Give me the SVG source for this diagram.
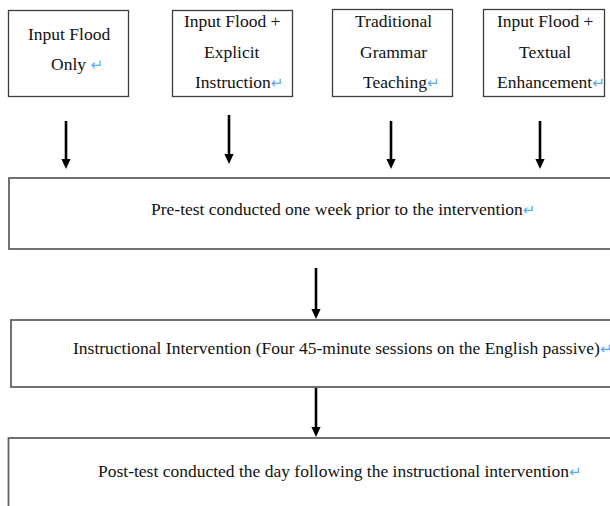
<svg xmlns="http://www.w3.org/2000/svg" width="610" height="506" viewBox="0 0 610 506">
<style>
  .bg{fill:#ffffff}
  .small{fill:#ffffff;stroke:#3c3c3c;stroke-width:1.3}
  .big{fill:#ffffff;stroke:#626262;stroke-width:1.8}
  .t{font-family:'Liberation Serif','DejaVu Serif',serif;font-size:17.5px;fill:#111111}
  .ret{font-family:'DejaVu Sans',sans-serif;font-size:15px;fill:#5aaaf0}
  .arrow{stroke:#000000;stroke-width:2.6;fill:none;marker-end:url(#head)}
</style>
<defs>
  <marker id="head" viewBox="0 -5 10 10" refX="0" refY="0" markerWidth="10" markerHeight="10" markerUnits="userSpaceOnUse" orient="auto">
    <path d="M0,-4.6 L10,0 L0,4.6 Z" fill="#000000"/>
  </marker>
</defs>
<rect class="bg" x="0" y="0" width="610" height="506"/>

<g id="node-input-flood-only">
  <rect class="small" x="8.5" y="10.5" width="120" height="86"/>
  <text class="t" x="28" y="40">Input Flood</text>
  <text class="t" x="51" y="70">Only <tspan class="ret">↵</tspan></text>
</g>

<g id="node-input-flood-explicit">
  <rect class="small" x="172.5" y="10.5" width="120" height="86"/>
  <text class="t" x="184" y="27">Input Flood +</text>
  <text class="t" x="204" y="58">Explicit</text>
  <text class="t" x="195" y="88">Instruction<tspan class="ret">↵</tspan></text>
</g>

<g id="node-traditional-grammar">
  <rect class="small" x="332.5" y="9.5" width="120" height="87"/>
  <text class="t" x="355" y="27">Traditional</text>
  <text class="t" x="360" y="58">Grammar</text>
  <text class="t" x="363" y="88">Teaching<tspan class="ret">↵</tspan></text>
</g>

<g id="node-input-flood-textual">
  <rect class="small" x="483.5" y="9.5" width="121" height="87"/>
  <text class="t" x="497" y="27">Input Flood +</text>
  <text class="t" x="519" y="58">Textual</text>
  <text class="t" x="497" y="88">Enhancement<tspan class="ret">↵</tspan></text>
</g>

<g id="node-pretest">
  <rect class="big" x="9" y="178" width="620" height="71"/>
  <text class="t" x="151" y="215">Pre-test conducted one week prior to the intervention<tspan class="ret">↵</tspan></text>
</g>

<g id="node-intervention">
  <rect class="big" x="11" y="320" width="620" height="67"/>
  <text class="t" x="73" y="354">Instructional Intervention (Four 45-minute sessions on the English passive)<tspan class="ret">↵</tspan></text>
</g>

<g id="node-posttest">
  <rect class="big" x="8.5" y="438" width="620" height="90"/>
  <text class="t" x="98" y="477">Post-test conducted the day following the instructional intervention<tspan class="ret">↵</tspan></text>
</g>

<g id="connectors">
  <line class="arrow" x1="66" y1="121" x2="66" y2="159"/>
  <line class="arrow" x1="229" y1="115" x2="229" y2="154"/>
  <line class="arrow" x1="391" y1="121" x2="391" y2="159"/>
  <line class="arrow" x1="540" y1="121" x2="540" y2="159"/>
  <line class="arrow" x1="316" y1="268" x2="316" y2="309"/>
  <line class="arrow" x1="316" y1="388" x2="316" y2="427"/>
</g>
</svg>
